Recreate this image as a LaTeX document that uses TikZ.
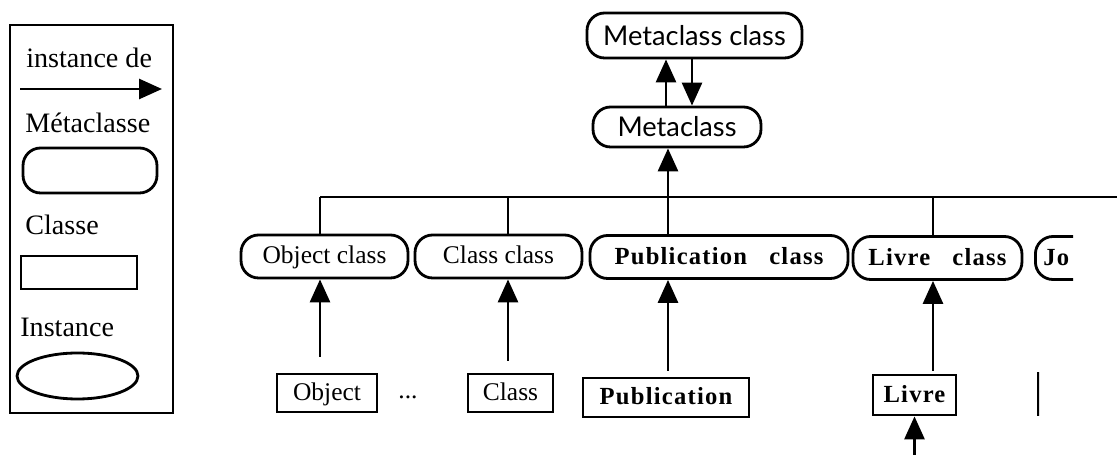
\documentclass[tikz,border=0pt]{standalone}
\usepackage{fontspec}
\setmainfont{Liberation Serif}
\newfontfamily\fontmeta{Lato}
\newfontfamily\espace[LetterSpace=5]{Liberation Serif}
\usetikzlibrary{arrows.meta,shapes.geometric}

\tikzset{
	meta/.style={draw, line width=1.6pt, rounded corners=10pt, inner sep=0pt, minimum height=0.86cm, text height=8pt, text depth=0pt},
	classe/.style={draw, line width=1.6pt, inner sep=0pt, minimum height=0.78cm, text height=8pt, text depth=0pt},
	gras/.style={font=\espace\bfseries\fontsize{14}{16}\selectfont},
	sans/.style={font=\fontmeta\fontsize{15.5}{17}\selectfont, text height=11pt},
	texte/.style={anchor=west, inner sep=0pt, font=\fontsize{16}{18}\selectfont},
	lien/.style={line width=1.6pt, -{Triangle[length=0.46cm, width=0.4cm]}},
	trait/.style={line width=1.6pt},
}

\begin{document}
\begin{tikzpicture}[x=0.02cm, y=-0.02cm, font=\fontsize{14.5}{17}\selectfont]
	\useasboundingbox (0, 0) rectangle (1117, 455);
	% legende
	\node[draw, line width=1.6pt, inner sep=0pt, minimum width=3.26cm, minimum height=7.76cm] (leg) at (91.5, 219) {};
	\node[texte] (linst) at (26, 58) {instance de};
	\coordinate (fg) at (20, 89);
	\coordinate (fd) at (162, 89);
	\draw[lien] (fg) -- (fd);
	\node[texte] (lmeta) at (25, 123) {Métaclasse};
	\node[meta, minimum width=2.68cm, minimum height=0.9cm] (lmetabox) at (90, 170.5) {};
	\node[texte] (lclasse) at (25, 225) {Classe};
	\node[classe, minimum width=2.32cm, minimum height=0.66cm] (lclassebox) at (79, 272.5) {};
	\node[texte] (linstance) at (20, 327) {Instance};
	\node[draw, ellipse, line width=1.6pt, inner sep=0pt, minimum width=2.42cm, minimum height=0.92cm] (linstancebox) at (77.5, 376) {};
	% metaclasses
	\node[meta, sans, minimum width=4.3cm, minimum height=0.9cm] (metac) at (694.5, 35.5) {Metaclass class};
	\node[meta, sans, minimum width=3.36cm, minimum height=0.8cm] (metaa) at (677, 127) {Metaclass};
	\draw[lien] ([xshift=-0.22cm]metaa.north) -- ([xshift=-0.22cm]metaa.north |- metac.south);
	\draw[lien] ([xshift=0.3cm]metaa.north |- metac.south) -- ([xshift=0.3cm]metaa.north);
	% classes
	\node[meta, minimum width=3.34cm] (objc) at (324.5, 256.5) {Object class};
	\node[meta, minimum width=3.34cm] (clsc) at (498.5, 256.5) {Class class};
	\node[meta, gras, minimum width=5.16cm] (pubc) at (719, 257) {Publication\hspace{0.9em}class};
	\node[meta, gras, minimum width=3.38cm] (livc) at (937.5, 258) {Livre\hspace{0.9em}class};
	\begin{scope}
		\clip (1025, 230) rectangle (1073, 290);
		\node[meta, gras, anchor=west, inner xsep=0.16cm, text width=3.3cm, align=left] (jouc) at (1034, 258) {Jo};
	\end{scope}
	\coordinate (b1) at (320, 197);
	\coordinate (b2) at (508, 197);
	\coordinate (b3) at (668, 197);
	\coordinate (b4) at (933, 197);
	\coordinate (bfin) at (1117, 197);
	\draw[trait] (b1) -- (bfin);
	\draw[trait] (b1) -- (b1 |- objc.north);
	\draw[trait] (b2) -- (b2 |- clsc.north);
	\draw[trait] (b3) -- (b3 |- pubc.north);
	\draw[trait] (b4) -- (b4 |- livc.north);
	\draw[lien] (b3) -- (b3 |- metaa.south);
	% instances
	\node[classe, minimum width=2cm, minimum height=0.76cm] (obj) at (327, 393) {Object};
	\node (pts) at (408, 397) {...};
	\node[classe, minimum width=1.7cm, minimum height=0.76cm] (cls) at (510.5, 393) {Class};
	\node[classe, gras, minimum width=3.32cm] (pub) at (666, 397.5) {Publication};
	\node[classe, gras, minimum width=1.66cm, minimum height=0.8cm] (liv) at (914.5, 395) {Livre};
	\begin{scope}
		\clip (1025, 365) rectangle (1039, 425);
		\node[classe, anchor=west, minimum width=2cm, minimum height=0.84cm] (jou) at (1037, 394) {};
	\end{scope}
	\draw[lien] (b1 |- obj.north) ++(0, -16) -- (b1 |- objc.south);
	\draw[lien] (b2 |- cls.north) ++(0, -12) -- (b2 |- clsc.south);
	\draw[lien] (b3 |- pub.north) ++(0, -6) -- (b3 |- pubc.south);
	\draw[lien] (b4 |- liv.north) ++(0, -3) -- (b4 |- livc.south);
	\draw[lien] (liv.south) ++(0, 40) -- (liv.south);
\end{tikzpicture}
\end{document}
